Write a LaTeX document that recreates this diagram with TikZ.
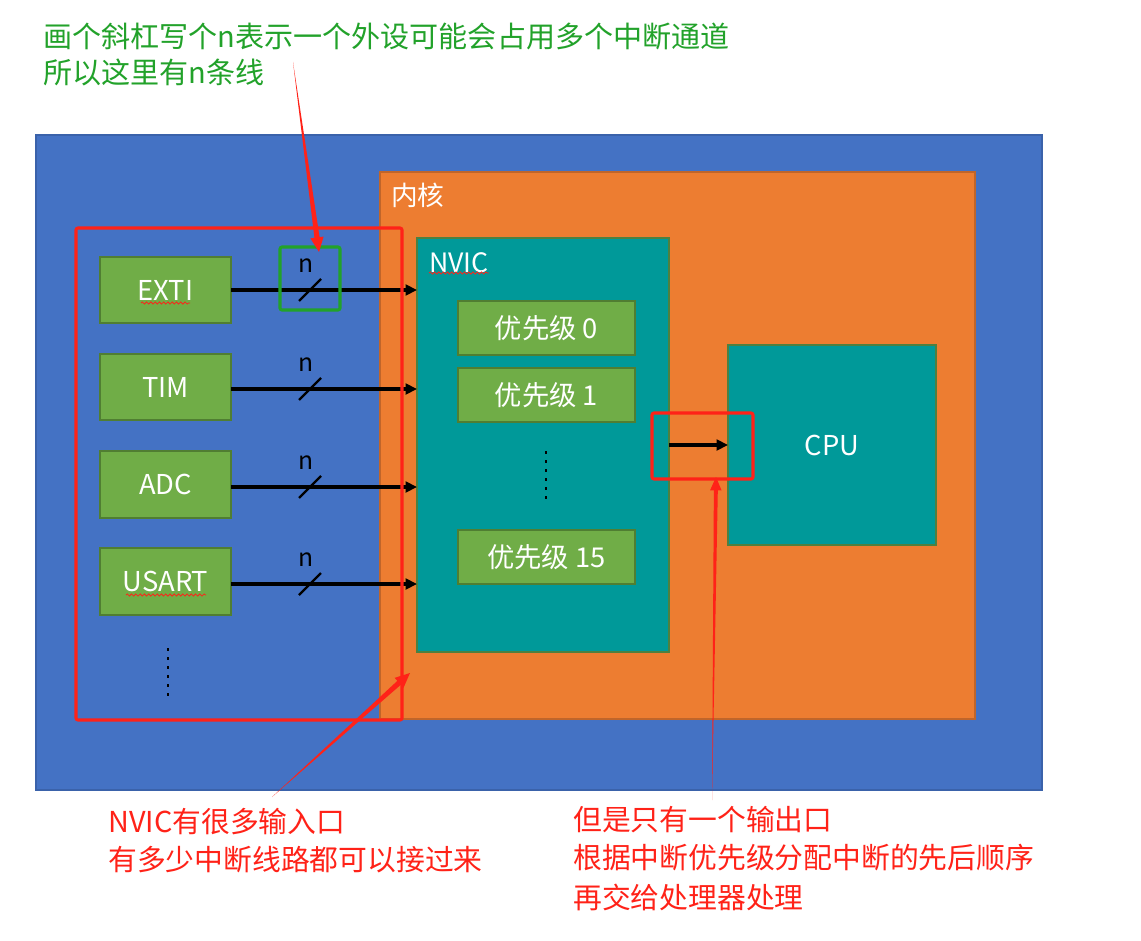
\documentclass[tikz,border=0pt]{standalone}
\usepackage{fontspec}
\newfontfamily\cjk{Noto Sans CJK SC}
\usetikzlibrary{fit,calc,arrows.meta,decorations.pathmorphing}
\definecolor{bgblue}{HTML}{4472C4}
\definecolor{bgblueedge}{HTML}{3A62AA}
\definecolor{coreorange}{HTML}{ED7D31}
\definecolor{coreedge}{HTML}{C0652A}
\definecolor{tealc}{HTML}{009999}
\definecolor{tealedge}{HTML}{4E8040}
\definecolor{boxgreen}{HTML}{70AD47}
\definecolor{boxedge}{HTML}{507E32}
\definecolor{notered}{HTML}{FF2218}
\definecolor{notegreen}{HTML}{22A22A}
\tikzset{
  panel/.style={inner sep=0pt, outer sep=0pt, line width=0.8pt},
  boxtext/.style={inner sep=0pt, text=white, font=\cjk\fontsize{20.5}{24}\selectfont},
  pbox/.style={panel, fill=boxgreen, draw=boxedge, line width=1.2pt},
  inlabel/.style={anchor=west, inner sep=0pt, text=white, font=\cjk\fontsize{20}{24}\selectfont},
  nlabel/.style={inner sep=0pt, font=\cjk\fontsize{18.5}{22}\selectfont},
  sig/.style={line width=2.4pt, -{Triangle[length=8.5pt,width=8pt]}},
  slash/.style={line width=1.7pt},
  redframe/.style={draw=notered, line width=2.3pt, rounded corners=1.5pt},
  greenframe/.style={draw=notegreen, line width=2.3pt, rounded corners=1.5pt},
  greennote/.style={anchor=west, inner sep=0pt, text=notegreen, font=\cjk\fontsize{21.8}{26}\selectfont},
  rednote/.style={anchor=west, inner sep=0pt, text=notered, font=\cjk\fontsize{21.6}{26}\selectfont},
  vdots/.style={line width=2.2pt, dash pattern=on 2.2pt off 4.6pt},
  squiggle/.style={draw=notered, line width=0.6pt, decorate, decoration={snake, segment length=3.2pt, amplitude=0.8pt}},
}
% tapered pointer: tail name, head name, half width, head length, head half width
\newcommand\redpointer[5]{%
  \coordinate (bb) at ($(#2)!#4*0.7!(#1)$);
  \coordinate (hb) at ($(#2)!#4!(#1)$);
  \fill[notered] (#1) -- ($(bb)!#3!90:(#1)$) -- ($(bb)!#3!-90:(#1)$) -- cycle;
  \fill[notered] (#2) -- ($(hb)!#5!90:(#1)$) -- ($(hb)!#5!-90:(#1)$) -- cycle;
}
\begin{document}
\begin{tikzpicture}[x=0.75pt,y=-0.75pt]
\useasboundingbox (0,0) rectangle (1141,941);
\fill[white] (0,0) rectangle (1141,941);

% panels
\node[panel, fill=bgblue, draw=bgblueedge, fit={(36,135) (1042,790)}] (mcu) {};
\node[panel, fill=coreorange, draw=coreedge, fit={(380,172) (975,719)}] (core) {};
\node[inlabel] (corelbl) at (391,195) {内核};
\node[panel, fill=tealc, draw=tealedge, line width=1.2pt, fit={(417,238) (669,652)}] (nvic) {};
\node[inlabel] (nviclbl) at (429,263) {NVIC};
\node[panel, fill=tealc, draw=tealedge, line width=1.2pt, fit={(728,345) (936,545)}] (cpu) {};
\node[boxtext] (cputxt) at (cpu.center) {CPU};

% priority boxes
\node[pbox, fit={(458,301) (635,355)}] (p0) {};
\node[boxtext] (p0txt) at (p0.center) {优先级 0};
\node[pbox, fit={(458,368) (635,422)}] (p1) {};
\node[boxtext] (p1txt) at (p1.center) {优先级 1};
\node[pbox, fit={(458,530) (635,584)}] (p15) {};
\node[boxtext] (p15txt) at (p15.center) {优先级 15};
\draw[vdots] (546,451) -- (546,499);

% peripherals
\foreach \p/\t/\b/\lbl in {exti/257/323/EXTI, tim/354/420/TIM, adc/451/518/ADC, usart/548/615/USART}{
  \node[pbox, fit={(100,\t) (231,\b)}] (\p) {};
  \node[boxtext] (\p txt) at (\p.center) {\lbl};
}
\draw[vdots] (168,648) -- (168,696);

% spell-check squiggles
\draw[squiggle] (141,303) -- (190,303);
\draw[squiggle] (429,273) -- (489,273);
\draw[squiggle] (126,595) -- (206,595);

% signal lines with bus slashes
\coordinate (sx) at (310,0);
\foreach \p/\y in {exti/290, tim/389, adc/487, usart/584}{
  \coordinate (\p in) at (417,\y);
  \draw[sig] (\p.east |- \p in) -- (\p in);
  \draw[slash] ($(sx |- \p in)+(-11,11)$) -- ($(sx |- \p in)+(11,-11)$);
  \node[nlabel] (\p n) at ($(sx |- \p in)+(-4,-24)$) {n};
}

% output arrow NVIC -> CPU
\coordinate (outy) at (0,445);
\draw[sig] (nvic.east |- outy) -- (cpu.west |- outy);

% frames
\node[redframe, inner sep=0pt, fit={(76,228) (402,720)}] (inframe) {};
\node[redframe, inner sep=0pt, fit={(652,413) (753,479)}] (outframe) {};
\node[greenframe, inner sep=0pt, fit={(280,247) (340,310)}] (nframe) {};

% notes
\node[greennote] (g1) at (43,36) {画个斜杠写个n表示一个外设可能会占用多个中断通道};
\node[greennote] (g2) at (43,72) {所以这里有n条线};
\node[rednote] (r1) at (108,822) {NVIC有很多输入口};
\node[rednote] (r2) at (108,860) {有多少中断线路都可以接过来};
\node[rednote] (r3) at (573,820) {但是只有一个输出口};
\node[rednote] (r4) at (573,858) {根据中断优先级分配中断的先后顺序};
\node[rednote] (r5) at (573,897) {再交给处理器处理};

% tapered red pointers
\coordinate (t1) at (293,62);  \coordinate (h1) at (319,252);
\coordinate (t2) at (272,797); \coordinate (h2) at (410,673);
\coordinate (t3) at (712,800); \coordinate (h3) at (716,477);
\redpointer{t1}{h1}{2pt}{11pt}{5pt}
\redpointer{t2}{h2}{2pt}{11pt}{5pt}
\redpointer{t3}{h3}{1.5pt}{10pt}{4.3pt}
\end{tikzpicture}
\end{document}
